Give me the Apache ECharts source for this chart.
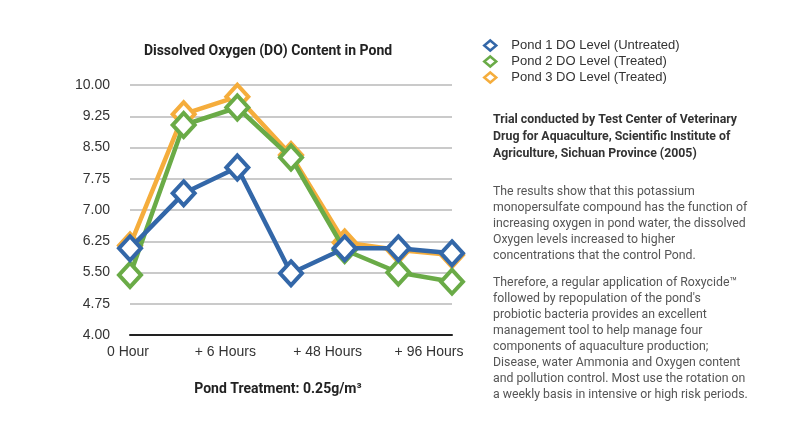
<!DOCTYPE html>
<html>
<head>
<meta charset="utf-8">
<script src="https://cdn.jsdelivr.net/npm/echarts@6/dist/echarts.min.js"></script>
<style>html,body{margin:0;padding:0;background:#fff;}#c{width:800px;height:427px;}</style>
</head>
<body>
<div id="c"></div>
<script>
var categories = ['0 Hour', '+ 3 Hours', '+ 6 Hours', '+ 24 Hours', '+ 48 Hours', '+ 72 Hours', '+ 96 Hours'];
var pond1 = [6.08, 7.40, 8.02, 5.48, 6.08, 6.08, 5.96];
var pond2 = [5.44, 9.04, 9.46, 8.26, 6.04, 5.50, 5.28];
var pond3 = [6.15, 9.30, 9.72, 8.32, 6.22, 6.04, 5.92];
var seriesNames = ['Pond 1 DO Level (Untreated)', 'Pond 2 DO Level (Treated)', 'Pond 3 DO Level (Treated)'];
var colors = ['#3367a8', '#6aab47', '#f5ad3c'];

var chart = echarts.init(document.getElementById('c'));
function mk(name, data, color, z) {
  return {
    name: name, type: 'line', data: data, z: z,
    symbol: 'diamond', symbolSize: [22, 24],
    lineStyle: { color: color, width: 4.5 },
    itemStyle: { color: '#fff', borderColor: color, borderWidth: 4 },
    emphasis: { disabled: true }
  };
}
var shifts = { 0: 's0', 2: 's2', 4: 's4', 6: 's6' };
var bodyFont = 'Roboto, "Liberation Sans", sans-serif';
chart.setOption({
  animation: false,
  title: [
    { text: 'Dissolved Oxygen (DO) Content in Pond', left: 263, top: 39, textAlign: 'center',
      textStyle: { fontSize: 14, fontWeight: 'bold', color: '#222', fontFamily: bodyFont } },
    { text: 'Pond Treatment: 0.25g/m³', left: 273, top: 377, textAlign: 'center',
      textStyle: { fontSize: 14, fontWeight: 'bold', color: '#222', fontFamily: bodyFont } }
  ],
  legend: {
    orient: 'vertical', left: 478, top: 34, itemGap: 3,
    itemWidth: 12, itemHeight: 10,
    data: seriesNames.map(function (n, i) {
      return { name: n, icon: 'diamond', itemStyle: { color: '#fff', borderColor: colors[i], borderWidth: 2.5 } };
    }),
    textStyle: { fontSize: 13, color: '#333', fontFamily: 'Arial, "Liberation Sans", sans-serif', padding: [0, 0, 0, 10] },
    selectedMode: false
  },
  grid: { left: 130, right: 348, top: 85, bottom: 92, containLabel: false },
  xAxis: {
    type: 'category', data: categories, boundaryGap: false,
    axisLine: { lineStyle: { color: '#222', width: 2 } },
    axisTick: { show: false },
    axisLabel: {
      interval: 1, margin: 10, fontSize: 14, color: '#333',
      fontFamily: 'Arial, "Liberation Sans", sans-serif',
      formatter: function (v, i) {
        var lbl = { 0: '0 Hour', 2: '+ 6 Hours', 4: '+ 48 Hours', 6: '+ 96 Hours' }[i];
        return lbl ? '{' + shifts[i] + '|' + lbl + '}' : '';
      },
      rich: {
        s0: { padding: [0, 4, 0, 0], fontSize: 14, color: '#333' },
        s2: { padding: [0, 24, 0, 0], fontSize: 14, color: '#333' },
        s4: { padding: [0, 34, 0, 0], fontSize: 14, color: '#333' },
        s6: { padding: [0, 46, 0, 0], fontSize: 14, color: '#333' }
      }
    }
  },
  yAxis: {
    type: 'value', min: 4, max: 10, interval: 0.75,
    axisLine: { show: false }, axisTick: { show: false },
    splitLine: { lineStyle: { color: '#b8b8b8', width: 1.5 } },
    axisLabel: { margin: 20, fontSize: 14, color: '#333', fontFamily: 'Arial, "Liberation Sans", sans-serif',
      formatter: function (v) { return v.toFixed(2); } }
  },
  graphic: [
    { type: 'text', left: 493, top: 111, style: {
      text: 'Trial conducted by Test Center of Veterinary\nDrug for Aquaculture, Scientific Institute of\nAgriculture, Sichuan Province (2005)',
      font: 'bold 12.3px ' + bodyFont, fill: '#333', lineHeight: 17 } },
    { type: 'text', left: 493, top: 184, style: {
      text: 'The results show that this potassium\nmonopersulfate compound has the function of\nincreasing oxygen in pond water, the dissolved\nOxygen levels increased to higher\nconcentrations that the control Pond.',
      font: '12.3px ' + bodyFont, fill: '#555', lineHeight: 16 } },
    { type: 'text', left: 493, top: 275, style: {
      text: 'Therefore, a regular application of Roxycide™\nfollowed by repopulation of the pond\'s\nprobiotic bacteria provides an excellent\nmanagement tool to help manage four\ncomponents of aquaculture production;\nDisease, water Ammonia and Oxygen content\nand pollution control. Most use the rotation on\na weekly basis in intensive or high risk periods.',
      font: '12.3px ' + bodyFont, fill: '#555', lineHeight: 16 } }
  ],
  series: [
    mk(seriesNames[2], pond3, colors[2], 2),
    mk(seriesNames[1], pond2, colors[1], 3),
    mk(seriesNames[0], pond1, colors[0], 4)
  ]
});
</script>
</body>
</html>
